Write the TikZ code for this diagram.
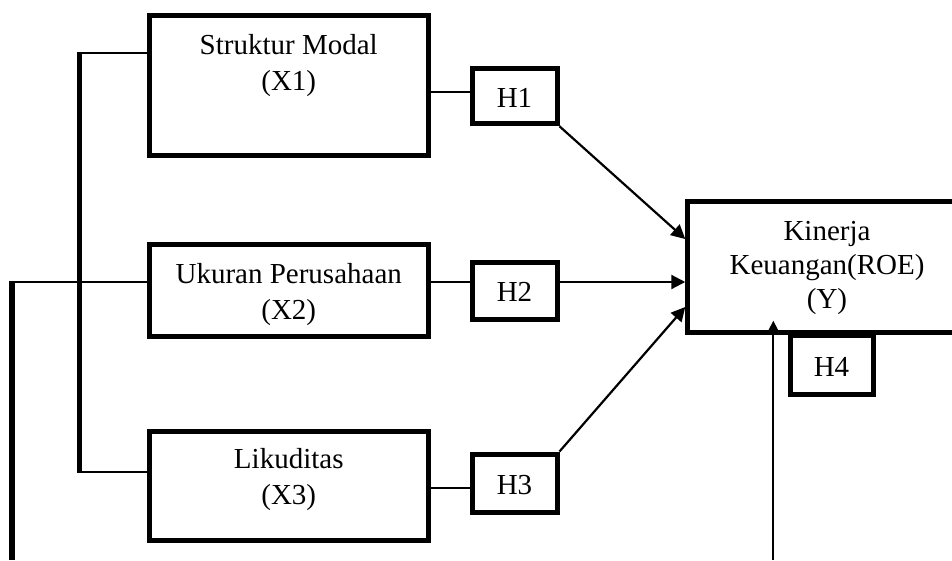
\documentclass[tikz,border=0pt]{standalone}
\usepackage{fontspec}
\setmainfont{Liberation Serif}
\usetikzlibrary{arrows.meta}

\begin{document}
\begin{tikzpicture}[x=1pt, y=-1pt,
  font=\fontsize{29}{36}\selectfont,
  varbox/.style={draw, line width=5pt, minimum width=278.5pt, align=center, text depth=6pt},
  hbox/.style={draw, line width=5pt, minimum width=85pt, text height=22pt, text depth=0pt},
  link/.style={line width=2pt},
  bar/.style={line width=5.5pt},
  arrowline/.style={line width=2.2pt, -{Triangle[length=14pt,width=14pt]}}]
\useasboundingbox (0,0) rectangle (952,560);
\clip (0,0) rectangle (952,560);

% Variables
\node[varbox, minimum height=139.5pt, text height=15pt] (X1) at (288.75,85.5) {Struktur Modal\\(X1)};
\node[varbox, minimum height=91.7pt, text height=62.4pt] (X2) at (288.75,290.8) {Ukuran Perusahaan\\(X2)};
\node[varbox, minimum height=109pt, text height=43pt] (X3) at (288.75,485.5) {Likuditas\\(X3)};
\node[varbox, minimum height=130.5pt, text height=88pt, font=\fontsize{29}{34}\selectfont] (Y) at (827,267) {Kinerja\\Keuangan(ROE)\\(Y)};

% Hypotheses
\node[hbox, minimum height=55pt] (H1) at (514.5,96.3) {H1};
\node[hbox, minimum height=57pt] (H2) at (514.5,290.5) {H2};
\node[hbox, minimum height=58pt] (H3) at (514.5,483) {H3};
\node[hbox, minimum width=83pt, minimum height=59pt] (H4) at (831.5,365) {H4};

% Bracket
\coordinate (bTop) at (79.5,53.3);
\coordinate (bBot) at (79.5,471.7);
\draw[bar] ([yshift=1pt]bTop) -- ([yshift=-1pt]bBot);
\draw[link] ([xshift=-2.7pt]bTop) -- (X1.west |- bTop);
\draw[link] ([xshift=-2.7pt]bBot) -- (X3.west |- bBot);

% Outer line
\coordinate (oTop) at (12,282);
\coordinate (oBot) at (12,560);
\coordinate (vBot) at (773.3,560);
\draw[link] ([xshift=-3pt]oTop) -- (X2.west |- oTop);
\draw[bar] ([yshift=1pt]oTop) -- (oBot);

% Paths
\draw[link] (X1.east |- 0,92.3) -- (H1.west |- 0,92.3);
\draw[link] (X2.east |- oTop) -- (H2.west |- oTop);
\draw[link] (X3.east |- 0,488) -- (H3.west |- 0,488);
\draw[arrowline] (H1.south east) -- (Y.west |- 0,239);
\draw[arrowline] (H2.east |- oTop) -- (Y.west |- oTop);
\draw[arrowline] (H3.north east) -- (Y.west |- 0,307);
\draw[arrowline] (vBot) -- ([yshift=14pt]Y.south -| vBot);
\end{tikzpicture}
\end{document}
